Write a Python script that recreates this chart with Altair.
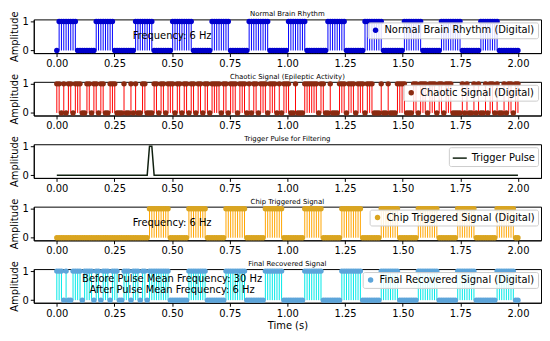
import altair as alt
import pandas as pd

# ---- data ----
N_SAMPLES = 200
T_START, T_END = 0.0, 2.0

# run-length encoded digital signals: (value, count)
NORMAL_RUNS = [(0, 1), (1, 8), (0, 8), (1, 8), (0, 9), (1, 8), (0, 8), (1, 9), (0, 8),
               (1, 8), (0, 8), (1, 9), (0, 8), (1, 8), (0, 9), (1, 8), (0, 8), (1, 8),
               (0, 9), (1, 8), (0, 8), (1, 9), (0, 8), (1, 8), (0, 9)]

CHAOTIC_BITS = ("1101011011" "1001101101" "1001110001" "0010100110"
                "0011011011" "1011011011" "0110110111" "1011011101"
                "1101011011" "1011101011" "1001000111" "1110110010"
                "0011101110" "1110111000" "1001000111" "1000110111"
                "0111011011" "1000010100" "1010010110" "1001011011")

TRIGGER_RUNS = [(0, 40), (1, 2), (0, 158)]

CHIP_RUNS = [(0, 40), (1, 9), (0, 8), (1, 8), (0, 8), (1, 9), (0, 8), (1, 8), (0, 9),
             (1, 8), (0, 8), (1, 9), (0, 8), (1, 8), (0, 8), (1, 9), (0, 8), (1, 8),
             (0, 9), (1, 8), (0, 2)]

FINAL_BEFORE_BITS = "1110100111" "1011110110" "1110111001" "1101110110"

X_TICKS = [0.0, 0.25, 0.5, 0.75, 1.0, 1.25, 1.5, 1.75, 2.0]
Y_TICKS = [0, 1]

TITLES = ["Normal Brain Rhythm", "Chaotic Signal (Epileptic Activity)",
          "Trigger Pulse for Filtering", "Chip Triggered Signal", "Final Recovered Signal"]
LEGENDS = ["Normal Brain Rhythm (Digital)", "Chaotic Signal (Digital)", "Trigger Pulse",
           "Chip Triggered Signal (Digital)", "Final Recovered Signal (Digital)"]

# ---- helpers ----
def expand(runs):
    out = []
    for v, c in runs:
        out += [v] * c
    return out

def bits(s):
    return [int(ch) for ch in s]

times = [T_START + (T_END - T_START) * i / (N_SAMPLES - 1) for i in range(N_SAMPLES)]

normal = expand(NORMAL_RUNS)
chaotic = bits(CHAOTIC_BITS)
trigger = expand(TRIGGER_RUNS)
chip = expand(CHIP_RUNS)
final = bits(FINAL_BEFORE_BITS) + chip[40:]

FONT = "DejaVu Sans"
W, H = 512, 34

xscale = alt.Scale(domain=[-0.1, 2.1], nice=False, zero=False)
yscale = alt.Scale(domain=[-0.09, 1.07], nice=False, zero=False)


def xaxis(last):
    return alt.Axis(values=X_TICKS, format=".2f", labelFontSize=10, labelFont=FONT,
                    tickSize=3.5, tickColor="black", domainColor="black", grid=False,
                    labelColor="black", labelPadding=2,
                    title="Time (s)" if last else None, titleFontSize=10, titleFont=FONT,
                    titleFontWeight="normal", titlePadding=2, titleColor="black")


yaxis = alt.Axis(values=Y_TICKS, format="d", labelFontSize=10, labelFont=FONT, tickSize=3.5,
                 tickColor="black", domainColor="black", grid=False, labelColor="black",
                 title="Amplitude", titleFontSize=10, titleFont=FONT,
                 titleFontWeight="normal", titlePadding=3, titleColor="black",
                 labelPadding=2)


def legend(symbol="circle"):
    return alt.Legend(title=None, orient="top-right", offset=3, fillColor="rgba(255,255,255,0.85)",
                      strokeColor="#cccccc", padding=3, cornerRadius=2, labelFontSize=10,
                      labelFont=FONT, labelColor="black", symbolType=symbol,
                      symbolSize=30 if symbol == "circle" else 200,
                      symbolStrokeWidth=1.5 if symbol == "stroke" else 0)


def title_layer(t):
    return alt.Chart(pd.DataFrame({"txt": [t]})).mark_text(
        fontSize=7, font=FONT, color="black", align="center", baseline="bottom").encode(
        x=alt.value(W / 2), y=alt.value(-2), text="txt:N")


def stem_panel(vals, ttl, lbl, stem_color, marker_color, last=False, notes=()):
    df = pd.DataFrame({"t": times, "v": vals, "s": lbl})
    base = alt.Chart(df)
    x = alt.X("t:Q", scale=xscale, axis=xaxis(last))
    stems = base.mark_rule(color=stem_color, strokeWidth=1).encode(
        x=x, y=alt.Y("v:Q", scale=yscale, axis=yaxis), y2=alt.datum(0))
    pts = base.mark_point(filled=True, opacity=1, size=30, shape="circle").encode(
        x=x, y=alt.Y("v:Q", scale=yscale),
        color=alt.Color("s:N", scale=alt.Scale(domain=[lbl], range=[marker_color]),
                        legend=legend()))
    layers = [stems, pts]
    for (tx, ty, txt) in notes:
        layers.append(alt.Chart(pd.DataFrame({"x": [tx], "y": [ty], "txt": [txt]})).mark_text(
            fontSize=10, font=FONT, color="black", align="center", baseline="middle").encode(
            x=alt.X("x:Q", scale=xscale), y=alt.Y("y:Q", scale=yscale), text="txt:N"))
    layers.append(title_layer(ttl))
    return alt.layer(*layers).properties(width=W, height=H)


p1 = stem_panel(normal, TITLES[0], LEGENDS[0], "#0000ff", "#0000cc",
                notes=[(0.5, 0.5, "Frequency: 6 Hz")])
p2 = stem_panel(chaotic, TITLES[1], LEGENDS[1], "#ff0000", "#8b2a10")

df3 = pd.DataFrame({"t": times, "v": trigger, "s": LEGENDS[2]})
line3 = alt.Chart(df3).mark_line(strokeWidth=1.5).encode(
    x=alt.X("t:Q", scale=xscale, axis=xaxis(False)),
    y=alt.Y("v:Q", scale=yscale, axis=yaxis),
    color=alt.Color("s:N", scale=alt.Scale(domain=[LEGENDS[2]], range=["#102010"]),
                    legend=legend("stroke")),
)
p3 = alt.layer(line3, title_layer(TITLES[2])).properties(width=W, height=H)

p4 = stem_panel(chip, TITLES[3], LEGENDS[3], "#ffa500", "#daa520",
                notes=[(0.5, 0.5, "Frequency: 6 Hz")])
p5 = stem_panel(final, TITLES[4], LEGENDS[4], "#00e8e8", "#5da5da", last=True,
                notes=[(0.5, 0.72, "Before Pulse Mean Frequency: 30 Hz"),
                       (0.5, 0.36, "After Pulse Mean Frequency: 6 Hz")])

chart = alt.vconcat(p1, p2, p3, p4, p5, spacing=29, bounds="flush").resolve_scale(
    color="independent").resolve_legend(color="independent").properties(
    padding={"left": 0, "top": 0, "right": 0, "bottom": 0}, background="white").configure_view(
    stroke="black", strokeWidth=1)

chart.save("out.html", embed_options={"renderer": "svg", "actions": False})
